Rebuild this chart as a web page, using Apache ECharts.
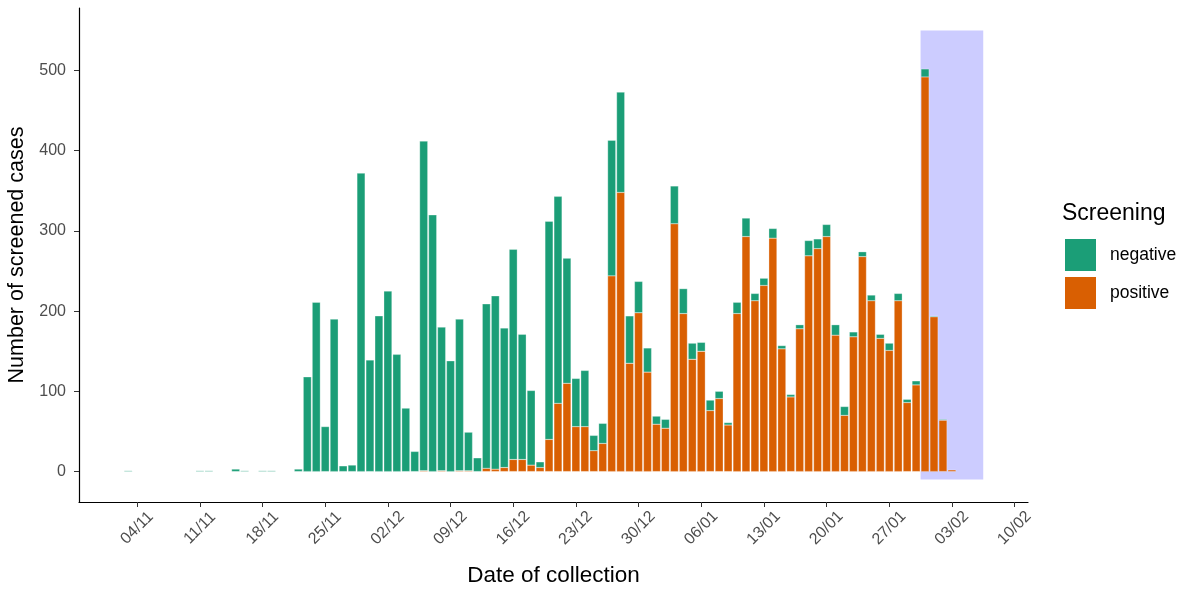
<!DOCTYPE html>
<html>
<head>
<meta charset="utf-8">
<script src="https://cdn.jsdelivr.net/npm/echarts@6/dist/echarts.min.js"></script>
<style>html,body{margin:0;padding:0;background:#fff}#c{width:1183px;height:590px}</style>
</head>
<body>
<div id="c"></div>
<script>
// Axis domain: daily categories from 29/10 to 11/02 (day offsets relative to 04/11)
const startDate = [2020, 9, 29];   // 29 Oct
const dayCount = 106;
const firstOffset = -6;
const yTicks = [0, 100, 200, 300, 400, 500];
// Daily counts keyed by day offset from 04/11
const negByDay = {"-1":1,7:1,8:1,11:3,12:1,14:1,15:1,18:3,19:118,20:211,21:56,22:190,23:7,24:8,25:372,26:139,27:194,28:225,29:146,30:79,31:25,32:411,33:320,34:179,35:138,36:189,37:48,38:17,39:205,40:216,41:174,42:262,43:156,44:93,45:7,46:272,47:258,48:156,49:60,50:70,51:19,52:25,53:169,54:125,55:59,56:39,57:30,58:10,59:11,60:47,61:31,62:20,63:11,64:13,65:9,66:3,67:14,68:23,69:9,70:9,71:12,72:4,73:3,74:5,75:19,76:12,77:15,78:13,79:11,80:6,81:6,82:7,83:5,84:9,85:9,86:4,87:5,88:10,89:1,90:1};
const posByDay = {32:1,34:1,36:1,37:1,39:4,40:3,41:5,42:15,43:15,44:8,45:5,46:40,47:85,48:110,49:56,50:56,51:26,52:35,53:244,54:348,55:135,56:198,57:124,58:59,59:54,60:309,61:197,62:140,63:150,64:76,65:91,66:58,67:197,68:293,69:213,70:232,71:291,72:153,73:93,74:178,75:269,76:278,77:293,78:170,79:70,80:168,81:268,82:213,83:166,84:151,85:213,86:86,87:108,88:492,89:193,90:64,91:2};
// Shaded period: [x from, x to (day offsets), y from, y to]
const highlight = [[87.5, 94.5, -10, 550]];

const categories = [];
const negData = [], posData = [];
for (let i = 0; i < dayCount; i++) {
  const dt = new Date(startDate[0], startDate[1], startDate[2] + i);
  const dd = String(dt.getDate()).padStart(2, '0');
  const mm = String(dt.getMonth() + 1).padStart(2, '0');
  categories.push(dd + '/' + mm);
  const d = i + firstOffset;
  negData.push(negByDay[d] != null ? negByDay[d] : null);
  posData.push(posByDay[d] != null ? posByDay[d] : null);
}
const FONT = 'Liberation Sans, Arial, sans-serif';
const weekly = (idx) => idx >= 6 && (idx - 6) % 7 === 0;

const chart = echarts.init(document.getElementById('c'), null, {renderer: 'canvas'});
chart.setOption({
  animation: false,
  backgroundColor: '#fff',
  textStyle: {fontFamily: FONT},
  title: {
    text: 'Screening', left: 1057, top: 197,
    textStyle: {fontSize: 23, fontWeight: 'normal', color: '#000', fontFamily: FONT}
  },
  legend: {
    orient: 'vertical', left: 1063, top: 237, padding: 0,
    itemWidth: 33, itemHeight: 34, itemGap: 2,
    icon: 'rect',
    data: ['negative', 'positive'],
    textStyle: {fontSize: 17.5, color: '#000', fontFamily: FONT, padding: [0, 0, 0, 8]}
  },
  grid: {left: 79, right: 155, top: 8, bottom: 88, containLabel: false, outerBoundsMode: 'none'},
  xAxis: [{
    type: 'category',
    data: categories,
    boundaryGap: true,
    name: 'Date of collection',
    nameLocation: 'middle',
    nameGap: 62,
    nameTextStyle: {fontSize: 22.5, color: '#000', fontFamily: FONT},
    axisLine: {onZero: false, lineStyle: {color: '#000', width: 1.2}},
    axisTick: {show: true, alignWithLabel: true, interval: weekly, length: 5, lineStyle: {color: '#333'}},
    axisLabel: {interval: weekly, rotate: 45, fontSize: 16, color: '#4D4D4D', margin: 26,
      align: 'center', verticalAlign: 'middle', fontFamily: FONT},
    splitLine: {show: false}
  }, {
    type: 'value', min: -6.5, max: 99.5, show: false,
    axisLine: {onZero: false}
  }],
  yAxis: {
    type: 'value', min: -38, max: 578,
    name: 'Number of screened cases',
    nameLocation: 'middle',
    nameGap: 43,
    nameTextStyle: {fontSize: 21.5, color: '#000', fontFamily: FONT},
    axisLine: {show: true, onZero: false, lineStyle: {color: '#000', width: 1.2}},
    axisTick: {show: true, length: 5, customValues: yTicks, lineStyle: {color: '#333'}},
    axisLabel: {customValues: yTicks, fontSize: 16, color: '#4D4D4D', margin: 13, fontFamily: FONT},
    splitLine: {show: false}
  },
  series: [{
    type: 'custom',
    xAxisIndex: 1,
    yAxisIndex: 0,
    z: 1,
    silent: true,
    data: highlight,
    encode: {x: [0, 1], y: [2, 3]},
    renderItem: function (params, api) {
      const p1 = api.coord([api.value(0), api.value(3)]);
      const p2 = api.coord([api.value(1), api.value(2)]);
      return {type: 'rect', shape: {x: p1[0], y: p1[1], width: p2[0] - p1[0], height: p2[1] - p1[1]},
        style: {fill: '#CCCCFF'}};
    }
  }, {
    name: 'positive', type: 'bar', stack: 'all', z: 3,
    data: posData, barWidth: '90%',
    itemStyle: {color: '#D95F02', borderColor: '#fff', borderWidth: 0.3}
  }, {
    name: 'negative', type: 'bar', stack: 'all', z: 3,
    data: negData, barWidth: '90%',
    itemStyle: {color: '#1B9E77', borderColor: '#fff', borderWidth: 0.3}
  }]
});
</script>
</body>
</html>
